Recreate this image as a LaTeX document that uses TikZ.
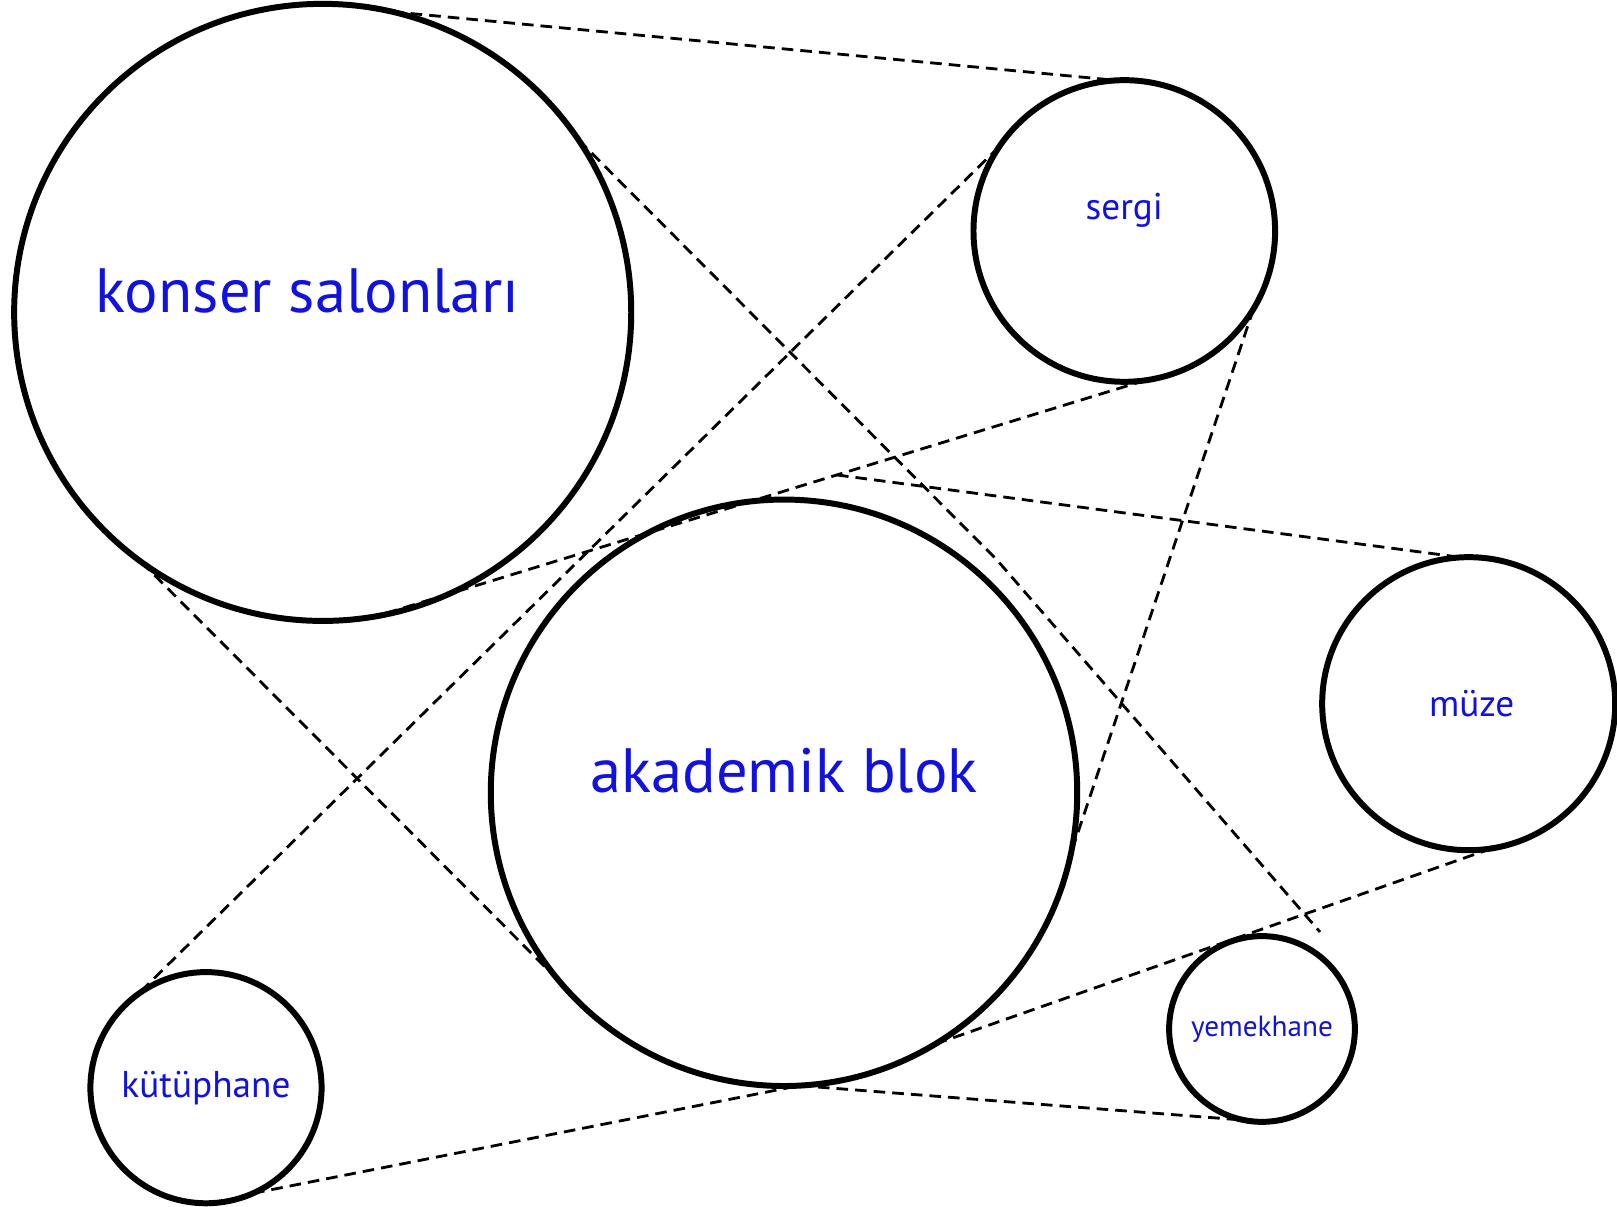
\documentclass[tikz,border=0pt]{standalone}
\usepackage{fontspec}
\setmainfont{PT Sans}
\usetikzlibrary{calc}
\definecolor{lblblue}{RGB}{18,18,222}
\tikzset{
	hall/.style={circle, draw=black, line width=1.7pt, inner sep=0pt, outer sep=0pt},
	link/.style={draw=black, line width=0.8pt, dash pattern=on 3.3pt off 2pt},
	bigname/.style={text=lblblue, font=\fontsize{17.8}{20}\selectfont, inner sep=0pt},
	midname/.style={text=lblblue, font=\fontsize{10.6}{12}\selectfont, inner sep=0pt},
	smallname/.style={text=lblblue, font=\fontsize{8.3}{10}\selectfont, inner sep=0pt},
}
\begin{document}
\begin{tikzpicture}[
		x=0.01cm,
		y=-0.01cm,
	]
		\useasboundingbox (0,0) rectangle (1617,1207);
		
		\foreach \n/\x/\y/\rad in {konser/322.7/312.4/308.3, sergi/1124.3/231/150.7, akademik/784/792.8/293, muze/1468.7/703.7/146.4, yemekhane/1262/1029/92.8, kutuphane/206/1087.7/115.5}{
			\node[hall, minimum size=\rad*0.02cm] (\n) at (\x,\y) {};
		}
		
		\node[bigname, anchor=base] (konserlbl) at ($(konser.center)+(-15,0)$) {konser salonları};
		\node[bigname, anchor=base] (akademiklbl) at (akademik.center) {akademik blok};
		\node[midname, anchor=base] (sergilbl) at ($(sergi.center)+(0,-11)$) {sergi};
		\node[midname] (muzelbl) at ($(muze)+(3,0)$) {müze};
		\node[smallname] (yemekhanelbl) at (yemekhane) {yemekhane};
		\node[midname] (kutuphanelbl) at (kutuphane) {kütüphane};
		
		\coordinate (kink) at (997,560);
		\coordinate (tipY) at (1320,932);
		\coordinate (tipM) at (837,475);
		
		\foreach \a/\b in {konser.77/sergi.93, sergi.146/kutuphane.126, sergi.-82/konser.-80, sergi.-31/akademik.-12, tipM/muze.93, konser.234/akademik.220, muze.-81/akademik.-59, akademik.-87/yemekhane.-101, kutuphane.-66/akademik.-87}{
			\draw[link] (\a) -- (\b);
		}
		\draw[link] (konser.34) -- (kink) -- (tipY);
	\end{tikzpicture}
\end{document}
